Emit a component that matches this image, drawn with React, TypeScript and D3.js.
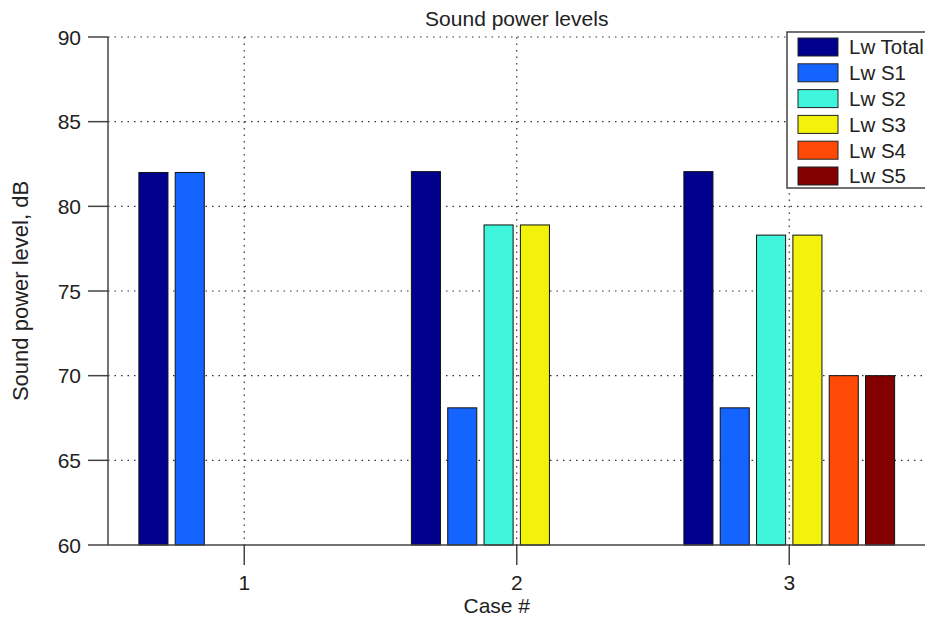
import React from 'react';
import * as d3 from 'd3';

const width = 925;
const height = 617;
const margin = {top: 37, right: 0, bottom: 72, left: 108};

const cases = [1, 2, 3];
const series = ['Lw Total', 'Lw S1', 'Lw S2', 'Lw S3', 'Lw S4', 'Lw S5'];
const colors = ['#00008c', '#1464ff', '#3ff5dc', '#f2f20a', '#ff4a06', '#820000'];
// one entry per case for each series (null = no bar)
const lwTotal = [82.0, 82.05, 82.05];
const lwS1 = [82.0, 68.1, 68.1];
const lwS2 = [null, 78.9, 78.3];
const lwS3 = [null, 78.9, 78.3];
const lwS4 = [null, null, 70.0];
const lwS5 = [null, null, 70.0];
const yTicks = [60, 65, 70, 75, 80, 85, 90];

const font = 'Liberation Sans, Arial, sans-serif';

export default function App() {
  const values = [lwTotal, lwS1, lwS2, lwS3, lwS4, lwS5];

  const x = d3.scaleLinear().domain([0.5, 3.5]).range([margin.left, width + 0.5]);
  const y = d3.scaleLinear().domain([60, 90]).range([height - margin.bottom, margin.top]);
  const step = x(2) - x(1);
  const inner = d3.scaleBand<string>()
    .domain(series)
    .range([-step * 0.4, step * 0.4])
    .paddingInner(0.2)
    .paddingOuter(0.1);

  const y0 = y(60);
  const plotRight = x(3.5);
  const midX = (margin.left + plotRight) / 2;

  return (
    <svg width={width} height={height} style={{position: 'absolute', left: 0, top: 0, background: '#fff'}}
      fontFamily={font}>
      <rect x={0} y={0} width={width} height={height} fill='#fff' />
      {/* grid */}
      <g stroke='#333' strokeWidth={1.2} strokeDasharray='1.5 5'>
        {yTicks.slice(1).map(t => (
          <line key={t} x1={margin.left} x2={plotRight} y1={y(t)} y2={y(t)} />
        ))}
        {cases.map(c => (
          <line key={c} x1={x(c)} x2={x(c)} y1={margin.top} y2={y0} />
        ))}
      </g>
      {/* bars */}
      {series.map((s, si) => (
        <g key={s} fill={colors[si]} stroke='#111' strokeWidth={1}>
          {cases.map((c, ci) => {
            const v = values[si][ci];
            if (v == null) return null;
            const bx = x(c) + (inner(s) as number);
            return <rect key={c} x={bx} y={y(v)} width={inner.bandwidth()} height={y0 - y(v)} />;
          })}
        </g>
      ))}
      {/* axes */}
      <g stroke='#444' strokeWidth={1.5} fill='none'>
        <line x1={margin.left} x2={margin.left} y1={margin.top} y2={y0} />
        <line x1={margin.left} x2={plotRight} y1={y0} y2={y0} />
        {yTicks.map(t => (
          <line key={t} x1={margin.left - 20} x2={margin.left} y1={y(t)} y2={y(t)} />
        ))}
        {cases.map(c => (
          <line key={c} x1={x(c)} x2={x(c)} y1={y0} y2={y0 + 20} />
        ))}
      </g>
      <g fontSize={21} fill='#222' textAnchor='end'>
        {yTicks.map(t => (
          <text key={t} x={margin.left - 27} y={y(t)} dy='0.36em'>{t}</text>
        ))}
      </g>
      <g fontSize={21} fill='#222' textAnchor='middle'>
        {cases.map(c => (
          <text key={c} x={x(c)} y={y0 + 45}>{c}</text>
        ))}
      </g>
      <text x={midX} y={26} textAnchor='middle' fontSize={21} fill='#222'>
        Sound power levels
      </text>
      <text x={midX - 20} y={613} textAnchor='middle' fontSize={21} fill='#222'>
        Case #
      </text>
      <text transform={`translate(28, ${(margin.top + y0) / 2}) rotate(-90)`} textAnchor='middle'
        fontSize={22} fill='#222'>
        Sound power level, dB
      </text>
      {/* legend */}
      <g>
        <rect x={787} y={32} width={150} height={156} fill='#fff' stroke='#444' strokeWidth={1.5} />
        {series.map((s, i) => (
          <g key={s} transform={`translate(798, ${38 + i * 25.8})`}>
            <rect width={40} height={18} fill={colors[i]} stroke='#222' strokeWidth={1} />
            <text x={51} y={9} dy='0.36em' fontSize={20.5} fill='#222'>{s}</text>
          </g>
        ))}
      </g>
    </svg>
  );
}
